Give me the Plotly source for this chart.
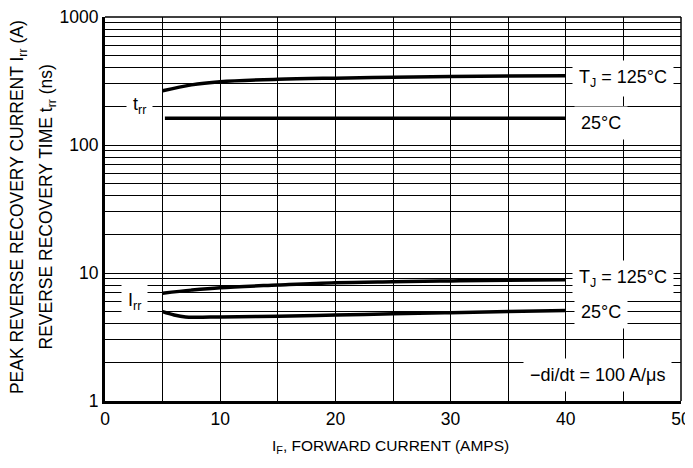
import math
import plotly.graph_objects as go

# Data
x_trr125 = [5, 7.5, 10, 15, 20, 25, 30, 35, 40]
trr125 = [265, 295, 312, 326, 333, 338, 343, 346, 348]
x_trr25 = [5.2, 10, 20, 30, 40]
trr25 = [162, 162, 162, 162, 162]
x_irr125 = [5, 7.5, 10, 15, 20, 25, 30, 35, 40]
irr125 = [6.95, 7.35, 7.68, 8.06, 8.4, 8.55, 8.67, 8.78, 8.85]
x_irr25 = [5, 6, 7, 8, 10, 15, 20, 25, 30, 35, 40]
irr25 = [4.99, 4.7, 4.53, 4.51, 4.54, 4.6, 4.7, 4.8, 4.9, 5.0, 5.1]

x_ticks = [0, 10, 20, 30, 40, 50]
x_minor = [5, 15, 25, 35, 45]
y_ticks = [1, 10, 100, 1000]
y_ticklabels = ["1", "10", "100", "1000"]
y_minor = [m * d for d in (1, 10, 100) for m in range(2, 10)]

FONT = "Liberation Sans, Arial, sans-serif"

fig = go.Figure()
for xs, ys in [(x_trr125, trr125), (x_trr25, trr25), (x_irr125, irr125), (x_irr25, irr25)]:
    fig.add_trace(go.Scatter(x=xs, y=ys, mode="lines", line=dict(color="black", width=3.5, shape="spline"),
                             showlegend=False, hoverinfo="skip"))

grid = dict(showgrid=True, gridcolor="black", gridwidth=1.3)
# page body adds an 8px offset; figure is sized to compensate
fig.update_layout(
    width=685, height=460,
    margin=dict(l=97, r=12, t=9, b=67),
    paper_bgcolor="white", plot_bgcolor="white",
    font=dict(family=FONT, size=17, color="black"),
    xaxis=dict(range=[0, 50], tickvals=x_ticks, ticks="", **grid, automargin=False,
               showline=True, linecolor="black", linewidth=3, zeroline=False, ticklabeloverflow="allow",
               minor=dict(tickvals=x_minor, ticks="", **grid), tickfont=dict(size=17.5)),
    yaxis=dict(type="log", range=[0, 3], tickvals=y_ticks, ticktext=y_ticklabels, ticks="", automargin=False,
               **grid, showline=True, linecolor="black", linewidth=3, zeroline=False, ticklabeloverflow="allow",
               minor=dict(tickvals=y_minor, ticks="", **grid), tickfont=dict(size=17.5)),
)

# thin top and right border
fig.add_shape(type="line", xref="paper", yref="paper", x0=0, x1=1, y0=1, y1=1, line=dict(color="black", width=1.5))
fig.add_shape(type="line", xref="paper", yref="paper", x0=1, x1=1, y0=0, y1=1, line=dict(color="black", width=1.5))

# axis titles
fig.add_annotation(text="PEAK REVERSE RECOVERY CURRENT I<sub>rr</sub> (A)", xref="paper", yref="paper",
                   x=-0.151, y=0.505, xanchor="center", yanchor="middle", textangle=-90, showarrow=False,
                   font=dict(size=17.5))
fig.add_annotation(text="REVERSE RECOVERY TIME t<sub>rr</sub> (ns)", xref="paper", yref="paper",
                   x=-0.100, y=0.505, xanchor="center", yanchor="middle", textangle=-90, showarrow=False,
                   font=dict(size=17.5))
fig.add_annotation(text="I<sub>F</sub>, FORWARD CURRENT (AMPS)", xref="paper", yref="paper",
                   x=0.495, y=-0.118, xanchor="center", yanchor="middle", showarrow=False,
                   font=dict(size=15.5))

labels = [
    ("t<sub>rr</sub>", 3.0, 205, "center"),
    ("I<sub>rr</sub>", 2.6, 6.0, "center"),
    ("T<sub>J</sub> = 125°C", 40.5, 330, "left"),
    ("25°C", 40.7, 149, "left"),
    ("T<sub>J</sub> = 125°C", 40.5, 9.0, "left"),
    ("25°C", 40.7, 4.99, "left"),
    ("−di/dt = 100 A/μs", 36.3, 1.6, "left"),
]
for txt, x, y, anc in labels:
    fig.add_annotation(text=txt, x=x, y=math.log10(y), xanchor=anc, yanchor="middle", showarrow=False,
                       bgcolor="white", borderpad=6, font=dict(size=18))

fig.write_html("out.html")
